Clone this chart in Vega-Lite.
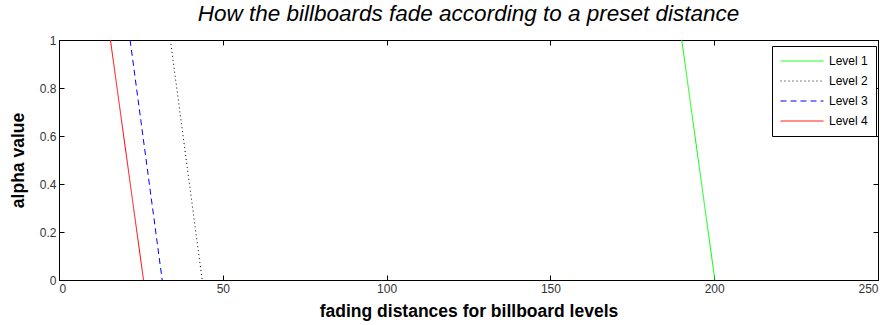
{
  "$schema": "https://vega.github.io/schema/vega-lite/v6.json",
  "width": 819,
  "height": 240,
  "autosize": {"type": "none"},
  "padding": {"left": 59, "top": 40, "right": 12, "bottom": 45},
  "background": "white",
  "title": {"text": "How the billboards fade according to a preset distance", "font": "Liberation Sans", "fontSize": 22.5, "fontStyle": "italic", "fontWeight": "normal", "color": "#000000", "offset": 9, "anchor": "middle"},
  "config": {
    "view": {"stroke": "#000000", "strokeWidth": 1},
    "axis": {"labelFont": "Liberation Sans", "labelFontSize": 12, "labelColor": "#333333", "titleFont": "Liberation Sans", "titleFontSize": 17.5, "titleFontWeight": "bold", "titleColor": "#000000", "grid": false, "domainColor": "#000000", "tickColor": "#000000", "tickSize": -5, "labelPadding": 8}
  },
  "data": {"values": [
    {"level": "Level 1", "x": 190.1, "y": 1},
    {"level": "Level 1", "x": 200.2, "y": 0},
    {"level": "Level 2", "x": 34.0, "y": 1},
    {"level": "Level 2", "x": 43.7, "y": 0},
    {"level": "Level 3", "x": 21.7, "y": 1},
    {"level": "Level 3", "x": 31.5, "y": 0},
    {"level": "Level 4", "x": 15.7, "y": 1},
    {"level": "Level 4", "x": 25.8, "y": 0}
  ]},
  "layer": [
    {
      "mark": {"type": "line", "strokeWidth": 1, "clip": true},
      "encoding": {
        "x": {"field": "x", "type": "quantitative", "scale": {"domain": [0, 250], "nice": false, "zero": false}, "axis": {"title": "fading distances for billboard levels", "values": [0, 50, 100, 150, 200, 250], "titlePadding": 8}},
        "y": {"field": "y", "type": "quantitative", "scale": {"domain": [0, 1], "nice": false}, "axis": {"title": "alpha value", "values": [0, 0.2, 0.4, 0.6, 0.8, 1], "format": "~g", "titlePadding": 12}},
        "color": {"field": "level", "type": "nominal", "scale": {"domain": ["Level 1", "Level 2", "Level 3", "Level 4"], "range": ["#00ff00", "#000000", "#0000ff", "#ff0000"]}, "legend": {"title": null, "orient": "none", "legendX": 713, "legendY": 6, "strokeColor": "#000000", "fillColor": "#ffffff", "padding": 8, "symbolType": "stroke", "symbolSize": 1849, "symbolStrokeWidth": 1, "clipHeight": 14, "rowPadding": 6, "labelFont": "Liberation Sans", "labelFontSize": 12, "labelColor": "#000000", "labelOffset": 5}},
        "strokeDash": {"field": "level", "type": "nominal", "scale": {"domain": ["Level 1", "Level 2", "Level 3", "Level 4"], "range": [[1, 0], [1, 3], [6, 4], [1, 0]]}, "legend": {"title": null}},
        "detail": {"field": "level"}
      }
    },
    {
      "mark": {"type": "point", "opacity": 0},
      "encoding": {
        "x": {"field": "x", "type": "quantitative", "scale": {"domain": [0, 250], "nice": false, "zero": false}, "axis": {"orient": "top", "title": null, "labels": false, "values": [0, 50, 100, 150, 200, 250]}},
        "y": {"field": "y", "type": "quantitative", "scale": {"domain": [0, 1], "nice": false}, "axis": {"orient": "right", "title": null, "labels": false, "values": [0, 0.2, 0.4, 0.6, 0.8, 1]}}
      }
    }
  ],
  "resolve": {"axis": {"x": "independent", "y": "independent"}}
}
